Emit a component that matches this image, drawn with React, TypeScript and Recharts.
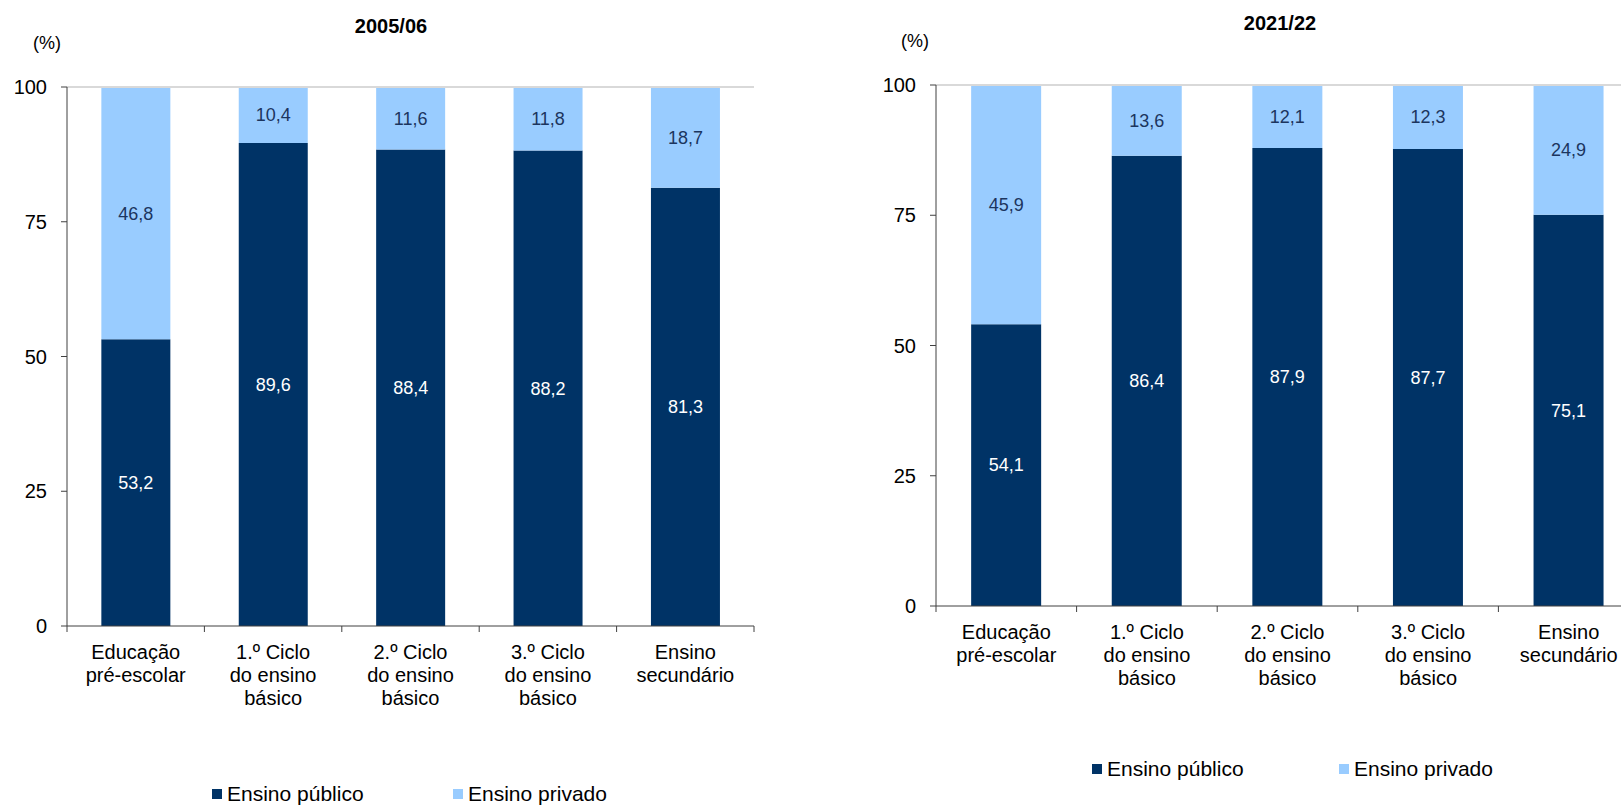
import { Bar, BarChart, LabelList, ReferenceLine, XAxis, YAxis } from "recharts";

const categories = [
  "Educação\npré-escolar",
  "1.º Ciclo\ndo ensino\nbásico",
  "2.º Ciclo\ndo ensino\nbásico",
  "3.º Ciclo\ndo ensino\nbásico",
  "Ensino\nsecundário",
];
const yTicks = [0, 25, 50, 75, 100];
const publico2005 = [53.2, 89.6, 88.4, 88.2, 81.3];
const privado2005 = [46.8, 10.4, 11.6, 11.8, 18.7];
const publico2021 = [54.1, 86.4, 87.9, 87.7, 75.1];
const privado2021 = [45.9, 13.6, 12.1, 12.3, 24.9];
const seriesNames = ["Ensino público", "Ensino privado"];

const DARK = "#003366";
const LIGHT = "#99CCFF";
const AXIS = "#404040";
const BORDER = "#d9d9d9";
const FONT = "'Liberation Sans', Arial, sans-serif";

const fmt = (v: number) => v.toFixed(1).replace(".", ",");

function CategoryTick(props: any) {
  const { x, y, payload, index, half } = props;
  const lines = String(payload.value).split("\n");
  return (
    <g>
      <line x1={x - half} x2={x - half} y1={y - 6} y2={y} stroke={AXIS} />
      {index === categories.length - 1 && (
        <line x1={x + half} x2={x + half} y1={y - 6} y2={y} stroke={AXIS} />
      )}
      <text x={x} y={y} textAnchor="middle" fontSize={20} fill="#000" fontFamily={FONT}>
        {lines.map((l, i) => (
          <tspan key={i} x={x} dy={i === 0 ? 27 : 23}>
            {l}
          </tspan>
        ))}
      </text>
    </g>
  );
}

type PanelProps = {
  publico: number[];
  privado: number[];
  left: number;
  width: number;
  height: number;
  margin: { top: number; right: number; bottom: number; left: number };
  yAxisWidth: number;
};

function Panel({ publico, privado, left, width, height, margin, yAxisWidth }: PanelProps) {
  const data = categories.map((c, i) => ({ name: c, publico: publico[i], privado: privado[i] }));
  const plotWidth = width - margin.left - margin.right - yAxisWidth;
  const half = plotWidth / categories.length / 2;
  return (
    <div style={{ position: "absolute", left, top: 0 }}>
      <BarChart width={width} height={height} data={data} margin={margin} barCategoryGap="25%">
        <ReferenceLine y={100} stroke={BORDER} strokeWidth={2} />
        <XAxis
          dataKey="name"
          interval={0}
          height={80}
          tickLine={false}
          tickMargin={0}
          axisLine={{ stroke: AXIS }}
          tick={(p: any) => <CategoryTick {...p} half={half} />}
        />
        <YAxis
          domain={[0, 100]}
          ticks={yTicks}
          width={yAxisWidth}
          tickSize={6}
          tickMargin={14}
          axisLine={{ stroke: AXIS }}
          tickLine={{ stroke: AXIS }}
          tick={{ fontSize: 20, fill: "#000", fontFamily: FONT }}
        />
        <YAxis
          yAxisId="r"
          orientation="right"
          width={0}
          domain={[0, 100]}
          tick={false}
          tickLine={false}
          axisLine={{ stroke: BORDER, strokeWidth: 2 }}
        />
        <Bar dataKey="publico" stackId="a" fill={DARK} isAnimationActive={false}>
          <LabelList
            dataKey="publico"
            position="center"
            formatter={(v: any) => fmt(Number(v))}
            fill="#ffffff"
            fontSize={18}
            fontFamily={FONT}
          />
        </Bar>
        <Bar dataKey="privado" stackId="a" fill={LIGHT} isAnimationActive={false}>
          <LabelList
            dataKey="privado"
            position="center"
            formatter={(v: any) => fmt(Number(v))}
            fill="#1c355e"
            fontSize={18}
            fontFamily={FONT}
          />
        </Bar>
      </BarChart>
    </div>
  );
}

function LegendRow({ left, top, itemWidth }: { left: number; top: number; itemWidth: number }) {
  const colors = [DARK, LIGHT];
  return (
    <div style={{ position: "absolute", left, top, display: "flex", alignItems: "center" }}>
      {seriesNames.map((n, i) => (
        <div key={n} style={{ width: itemWidth, display: "flex", alignItems: "center" }}>
          <span style={{ width: 10, height: 10, background: colors[i], marginRight: 5 }} />
          <span style={{ fontSize: 21, lineHeight: "24px", color: "#000" }}>{n}</span>
        </div>
      ))}
    </div>
  );
}

const textAt = (x: number, y: number, size: number, bold: boolean, center: boolean) => ({
  position: "absolute" as const,
  left: x,
  top: y - size / 2,
  fontSize: size,
  lineHeight: `${size}px`,
  fontWeight: bold ? 700 : 400,
  transform: center ? "translateX(-50%)" : undefined,
  whiteSpace: "nowrap" as const,
  color: "#000",
});

export default function App() {
  return (
    <div
      style={{
        position: "fixed",
        left: 0,
        top: 0,
        width: 1621,
        height: 805,
        overflow: "hidden",
        background: "#fff",
        fontFamily: FONT,
      }}
    >
      <Panel
        publico={publico2005}
        privado={privado2005}
        left={0}
        width={800}
        height={805}
        margin={{ top: 87, right: 46, bottom: 99, left: 0 }}
        yAxisWidth={67}
      />
      <Panel
        publico={publico2021}
        privado={privado2021}
        left={830}
        width={830}
        height={805}
        margin={{ top: 85, right: 21, bottom: 119, left: 39 }}
        yAxisWidth={67}
      />
      <div style={textAt(391, 26, 20, true, true)}>2005/06</div>
      <div style={textAt(1280, 23, 20, true, true)}>2021/22</div>
      <div style={textAt(33, 43, 18, false, false)}>(%)</div>
      <div style={textAt(901, 41, 18, false, false)}>(%)</div>
      <LegendRow left={212} top={782} itemWidth={241} />
      <LegendRow left={1092} top={757} itemWidth={247} />
    </div>
  );
}
